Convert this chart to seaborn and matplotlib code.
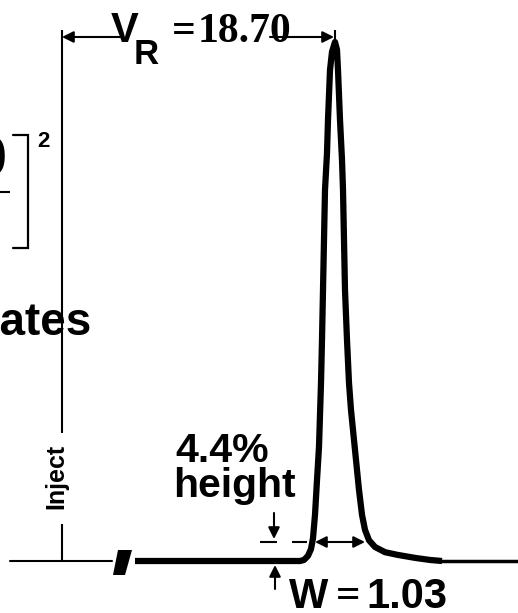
import matplotlib
matplotlib.use("Agg")
import matplotlib.pyplot as plt
import seaborn as sns
import pandas as pd

# ---------------- data ----------------
# schematic elution position (x) and detector signal in % of peak height
peak_x = [135, 300, 304, 308, 311, 313, 315, 317, 319, 321, 322, 323, 325, 327,
          328, 330, 332, 335, 337, 338, 340, 342, 343, 345, 347, 349, 351, 355,
          359, 362, 365, 369, 375, 385, 397, 415, 430, 442]
peak_signal = [0, 0, 0.2, 1.0, 2.3, 4.4, 8.9, 15.6, 22.0, 34.3, 42.6, 52.2, 71.5, 78.6,
               85.0, 94.6, 98.1, 100, 98.5, 94.6, 85.0, 77.3, 71.5, 52.2, 42.6, 34.3, 29.1, 21.4,
               13.7, 8.9, 6.0, 4.0, 2.7, 1.7, 1.2, 0.6, 0.2, 0]
tail_x = [440, 518]
tail_signal = [0, 0]
pre_x = [10, 112]
pre_signal = [0, 0]

retention_label = "18.70"
width_label = "1.03"
height_label = "4.4%"

# ---------------- figure ----------------
sns.set_theme(style="white")
plt.rcParams['font.family'] = ['Liberation Sans', 'DejaVu Sans']
plt.rcParams['text.color'] = 'black'
SANS = ['Liberation Sans', 'DejaVu Sans']
SERIF = ['Liberation Serif', 'DejaVu Serif']

W_PX, H_PX = 518, 613
fig = plt.figure(figsize=(W_PX / 100, H_PX / 100), dpi=100)
fig.patch.set_facecolor('white')
ax = fig.add_axes([0, 0, 1, 1])
ax.set_facecolor('white')

BASE_PX, APEX_PX = 561.0, 42.0
SCALE = (BASE_PX - APEX_PX) / 100.0


def S(ypx):
    """picture row -> signal units"""
    return (BASE_PX - ypx) / SCALE


df_peak = pd.DataFrame({"x": peak_x, "signal": peak_signal})
df_tail = pd.DataFrame({"x": tail_x, "signal": tail_signal})
df_pre = pd.DataFrame({"x": pre_x, "signal": pre_signal})

sns.lineplot(data=df_peak, x="x", y="signal", ax=ax, color="black", lw=4.5,
             sort=False, estimator=None, solid_joinstyle='round', solid_capstyle='butt')
sns.lineplot(data=df_tail, x="x", y="signal", ax=ax, color="black", lw=2.5,
             estimator=None)
sns.lineplot(data=df_pre, x="x", y="signal", ax=ax, color="black", lw=1.5,
             estimator=None)
ax.set_xlim(0, W_PX)
ax.set_ylim(S(H_PX), S(0))
ax.axis('off')

# break mark on the baseline
brk = [(118, 550), (132, 550), (125, 575), (113, 575)]
ax.fill([p[0] for p in brk], [S(p[1]) for p in brk], color='black', lw=0)

# inject line
lk = dict(color='black', lw=1.5, solid_capstyle='butt')
ax.plot([62, 62], [S(30), S(433)], **lk)
ax.plot([62, 62], [S(524), S(BASE_PX)], **lk)
ax.text(56, S(476), "Inject", rotation=90, ha='center', va='center',
        fontsize=18, fontweight='bold', family=SANS, color='black')

# retention volume arrows
arr = dict(arrowstyle='-|>', color='black', lw=1.5, mutation_scale=17,
           shrinkA=0, shrinkB=0)
ax.annotate("", xy=(62, S(37)), xytext=(120, S(37)), arrowprops=arr)
ax.annotate("", xy=(334, S(37)), xytext=(270, S(37)), arrowprops=arr)
ax.plot([335, 335], [S(30), S(46)], **lk)

tk = dict(ha='left', va='baseline', fontweight='bold', color='black')
ax.text(111, S(42), "V", fontsize=30, family=SANS, **tk)
ax.text(134, S(64), "R", fontsize=25, family=SANS, **tk)
ax.text(172, S(42), "=", fontsize=30, family=SERIF, **tk)
ax.text(198, S(42), retention_label, fontsize=30, family=SERIF, **tk)

# partially visible plate-count formula on the left (cut by the crop)
ax.text(8, S(176), retention_label, ha='right', va='baseline', fontsize=40,
        fontweight='bold', family=SANS, color='black')
ax.plot([-200, 10], [S(192), S(192)], **lk)
ax.plot([13, 28, 28, 13], [S(135), S(135), S(248), S(248)], color='black',
        lw=1.6, solid_joinstyle='miter')
ax.text(37, S(147), "2", fontsize=16, family=SANS, **tk)
ax.text(92, S(335), "Plates", ha='right', va='baseline', fontsize=33,
        fontweight='bold', family=SANS, color='black')

# 4.4% height annotation
ax.text(175, S(462), height_label, fontsize=29.5, family=SANS, **tk)
ax.text(173, S(497), "height", fontsize=29.5, family=SANS, **tk)
ax.annotate("", xy=(274, S(539)), xytext=(274, S(513)), arrowprops=arr)
ax.plot([260, 277], [S(542), S(542)], **lk)
ax.plot([292, 307], [S(542), S(542)], **lk)
ax.annotate("", xy=(315, S(542)), xytext=(365, S(542)),
            arrowprops=dict(arrowstyle='<|-|>', color='black', lw=1.5,
                            mutation_scale=17, shrinkA=0, shrinkB=0))
ax.annotate("", xy=(275, S(565)), xytext=(275, S(589)), arrowprops=arr)

# width label
ax.text(289, S(608), "W", fontsize=30, family=SANS, **tk)
ax.text(336, S(607), "=", fontsize=31, family=SERIF, **tk)
ax.text(366, S(608), width_label, fontsize=30, family=SANS, **tk)

fig.savefig("out.png", dpi=100, facecolor='white')
